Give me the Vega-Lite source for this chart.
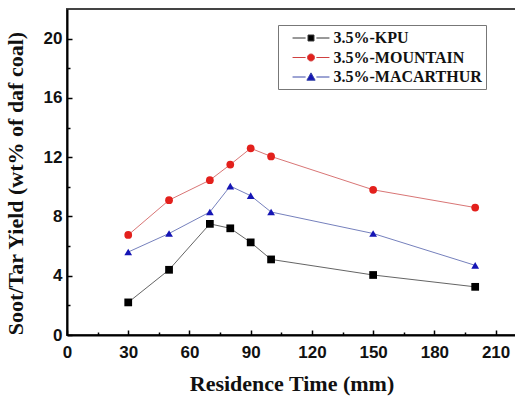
{
  "$schema": "https://vega.github.io/schema/vega-lite/v6.json",
  "autosize": "none",
  "padding": {"left": 67, "top": 9, "right": 0, "bottom": 63},
  "width": 449,
  "height": 326,
  "background": "white",
  "data": {"values": [
    {"t": 30, "y": 2.2, "s": "3.5%-KPU"},
    {"t": 50, "y": 4.4, "s": "3.5%-KPU"},
    {"t": 70, "y": 7.5, "s": "3.5%-KPU"},
    {"t": 80, "y": 7.2, "s": "3.5%-KPU"},
    {"t": 90, "y": 6.25, "s": "3.5%-KPU"},
    {"t": 100, "y": 5.1, "s": "3.5%-KPU"},
    {"t": 150, "y": 4.05, "s": "3.5%-KPU"},
    {"t": 200, "y": 3.25, "s": "3.5%-KPU"},
    {"t": 30, "y": 6.75, "s": "3.5%-MOUNTAIN"},
    {"t": 50, "y": 9.1, "s": "3.5%-MOUNTAIN"},
    {"t": 70, "y": 10.45, "s": "3.5%-MOUNTAIN"},
    {"t": 80, "y": 11.5, "s": "3.5%-MOUNTAIN"},
    {"t": 90, "y": 12.6, "s": "3.5%-MOUNTAIN"},
    {"t": 100, "y": 12.05, "s": "3.5%-MOUNTAIN"},
    {"t": 150, "y": 9.8, "s": "3.5%-MOUNTAIN"},
    {"t": 200, "y": 8.6, "s": "3.5%-MOUNTAIN"},
    {"t": 30, "y": 5.6, "s": "3.5%-MACARTHUR"},
    {"t": 50, "y": 6.85, "s": "3.5%-MACARTHUR"},
    {"t": 70, "y": 8.3, "s": "3.5%-MACARTHUR"},
    {"t": 80, "y": 10.05, "s": "3.5%-MACARTHUR"},
    {"t": 90, "y": 9.4, "s": "3.5%-MACARTHUR"},
    {"t": 100, "y": 8.3, "s": "3.5%-MACARTHUR"},
    {"t": 150, "y": 6.85, "s": "3.5%-MACARTHUR"},
    {"t": 200, "y": 4.7, "s": "3.5%-MACARTHUR"}
  ]},
  "layer": [
    {
      "mark": {"type": "line", "strokeWidth": 1, "opacity": 0.7},
      "encoding": {
        "x": {"field": "t", "type": "quantitative", "scale": {"domain": [0, 220], "nice": false},
          "axis": {"orient": "bottom", "values": [0, 30, 60, 90, 120, 150, 180, 210], "title": "Residence Time (mm)", "tickSize": -5, "labelPadding": 14, "titlePadding": 13}},
        "y": {"field": "y", "type": "quantitative", "scale": {"domain": [0, 22], "nice": false},
          "axis": {"orient": "left", "values": [0, 4, 8, 12, 16, 20], "title": "Soot/Tar Yield (wt% of daf coal)", "tickSize": -5, "labelPadding": 10, "titlePadding": 16, "titleY": 174}},
        "color": {"field": "s", "type": "nominal", "scale": {"domain": ["3.5%-KPU", "3.5%-MOUNTAIN", "3.5%-MACARTHUR"], "range": ["#222222", "#c83a3a", "#3a4aa0"]}, "legend": null}
      }
    },
    {
      "mark": {"type": "point", "filled": true, "opacity": 1, "size": 60},
      "encoding": {
        "x": {"field": "t", "type": "quantitative",
          "axis": {"orient": "bottom", "values": [15, 45, 75, 105, 135, 165, 195], "labels": false, "domain": false, "title": null, "tickSize": -3}},
        "y": {"field": "y", "type": "quantitative",
          "axis": {"orient": "left", "values": [2, 6, 10, 14, 18], "labels": false, "domain": false, "title": null, "tickSize": -3}},
        "color": {"field": "s", "type": "nominal", "scale": {"domain": ["3.5%-KPU", "3.5%-MOUNTAIN", "3.5%-MACARTHUR"], "range": ["#000000", "#e3201c", "#1515b5"]}, "legend": null},
        "shape": {"field": "s", "type": "nominal", "scale": {"domain": ["3.5%-KPU", "3.5%-MOUNTAIN", "3.5%-MACARTHUR"], "range": ["square", "circle", "triangle-up"]}, "legend": null}
      }
    },
    {
      "transform": [{"filter": "datum.y < -100"}],
      "mark": {"type": "point", "opacity": 1, "strokeWidth": 1},
      "encoding": {
        "x": {"field": "t", "type": "quantitative", "axis": null},
        "y": {"field": "y", "type": "quantitative", "axis": null},
        "fill": {"field": "s", "type": "nominal", "scale": {"domain": ["3.5%-KPU", "3.5%-MOUNTAIN", "3.5%-MACARTHUR"], "range": ["#000000", "#e3201c", "#1515b5"]},
          "legend": {"title": null, "orient": "none", "legendX": 211, "legendY": 16, "symbolSize": 324, "symbolOffset": 20, "labelOffset": 13, "symbolStrokeWidth": 1, "rowPadding": 1.5, "padding": 3.5, "strokeColor": "#777777", "labelFont": "Liberation Serif", "labelFontWeight": "bold", "labelFontSize": 16, "labelColor": "#111111", "labelLimit": 300}},
        "stroke": {"field": "s", "type": "nominal", "scale": {"domain": ["3.5%-KPU", "3.5%-MOUNTAIN", "3.5%-MACARTHUR"], "range": ["#333333", "#d04040", "#3a48a8"]},
          "legend": {"title": null, "orient": "none", "legendX": 211, "legendY": 16, "symbolSize": 324, "symbolOffset": 20, "labelOffset": 13, "symbolStrokeWidth": 1, "rowPadding": 1.5, "padding": 3.5, "strokeColor": "#777777", "labelFont": "Liberation Serif", "labelFontWeight": "bold", "labelFontSize": 16, "labelColor": "#111111", "labelLimit": 300}},
        "shape": {"field": "s", "type": "nominal", "scale": {"domain": ["3.5%-KPU", "3.5%-MOUNTAIN", "3.5%-MACARTHUR"], "range": [
          "M-2.05,0H-0.6M0.6,0H2.05M-0.33,-0.33H0.33V0.33H-0.33Z",
          "M-2.05,0H-0.6M0.6,0H2.05M0.39,0A0.39,0.39 0 1,1 -0.39,0A0.39,0.39 0 1,1 0.39,0Z",
          "M-2.05,0H-0.6M0.6,0H2.05M0,-0.46L0.46,0.36L-0.46,0.36Z"]},
          "legend": {"title": null, "orient": "none", "legendX": 211, "legendY": 16, "symbolSize": 324, "symbolOffset": 20, "labelOffset": 13, "symbolStrokeWidth": 1, "rowPadding": 1.5, "padding": 3.5, "strokeColor": "#777777", "labelFont": "Liberation Serif", "labelFontWeight": "bold", "labelFontSize": 16, "labelColor": "#111111", "labelLimit": 300}}
      }
    }
  ],
  "resolve": {"axis": {"x": "independent", "y": "independent"}, "scale": {"color": "independent", "shape": "independent", "fill": "independent", "stroke": "independent"}},
  "config": {
    "view": {"stroke": "#444444", "strokeWidth": 2},
    "axis": {
      "grid": false,
      "domainColor": "#000000",
      "domainWidth": 2,
      "tickColor": "#000000",
      "tickWidth": 1.5,
      "labelFont": "Liberation Sans",
      "labelFontWeight": "bold",
      "labelFontSize": 17,
      "labelColor": "#111111",
      "titleFont": "Liberation Serif",
      "titleFontWeight": "bold",
      "titleFontSize": 22,
      "titleColor": "#111111"
    },
    "axisX": {"labelFlush": false},
    "axisY": {"labelFlush": false}
  }
}
